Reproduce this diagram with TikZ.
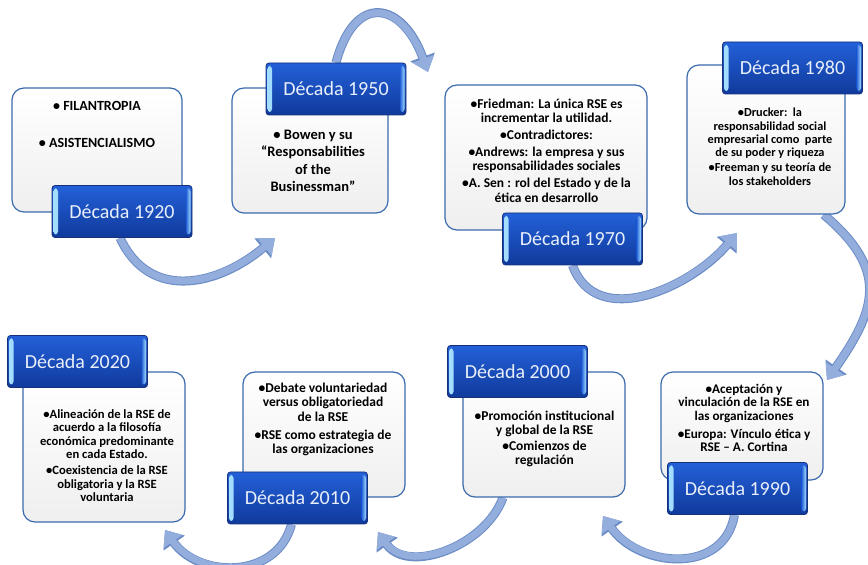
\documentclass[tikz,border=0pt]{standalone}
\usepackage{fontspec}
\setmainfont{Carlito}
\usepackage{xcolor}
\usepackage{tikz}
\usetikzlibrary{arrows.meta,backgrounds,positioning}

\definecolor{azulborde}{HTML}{3A6AAE}
\definecolor{grisfondo}{HTML}{EFEFEF}
\definecolor{azuloscuro}{HTML}{103A9C}
\definecolor{azulmedio}{HTML}{2360D8}
\definecolor{azulmarco}{HTML}{17307A}
\definecolor{celeste}{HTML}{A6E0FF}
\definecolor{flechafondo}{HTML}{93ADDD}
\definecolor{flechaborde}{HTML}{6C8CC6}
\definecolor{textodecada}{HTML}{E8EFFA}

\begin{document}
\begin{tikzpicture}[x=1pt, y=1pt,
                etapa/.style = {rectangle, rounded corners=12pt, draw=azulborde, line width=1.2pt,
                                top color=white, bottom color=grisfondo},
                decada/.style = {rectangle, rounded corners=3pt, draw=azulmarco, line width=0.8pt,
                                 minimum width=140pt, minimum height=52pt, inner sep=0pt,
                                 top color=azulmedio, bottom color=azuloscuro, text=textodecada,
                                 font=\fontsize{20}{24}\selectfont,
                                 path picture={
                                   \shade[left color=celeste, right color=azulmedio]
                                     ([xshift=1.5pt,yshift=-3pt]path picture bounding box.north west) rectangle
                                     ([xshift=6pt,yshift=3pt]path picture bounding box.south west);
                                   \shade[left color=azulmedio, right color=celeste]
                                     ([xshift=-6pt,yshift=-3pt]path picture bounding box.north east) rectangle
                                     ([xshift=-1.5pt,yshift=3pt]path picture bounding box.south east);}},
                texto/.style = {anchor=north, align=center, inner sep=0pt},
                flecha/.style = {draw=flechafondo, line width=7pt, -{Triangle[length=14pt,width=22pt]},
                                 preaction={draw=flechaborde, line width=9pt, -{Triangle[length=16pt,width=25pt]}}}]
            \useasboundingbox (0,0) rectangle (868,565);
            % recuadros
            \node[etapa, minimum width=170pt, minimum height=124pt] (b1920) at (97,415) {};
            \node[etapa, minimum width=156pt, minimum height=125pt] (b1950) at (310,414.5) {};
            \node[etapa, minimum width=202pt, minimum height=145pt] (b1970) at (546,407.5) {};
            \node[etapa, minimum width=158pt, minimum height=149pt] (b1980) at (766,425.5) {};
            \node[etapa, minimum width=162pt, minimum height=108pt] (b1990) at (742,139) {};
            \node[etapa, minimum width=162pt, minimum height=125pt] (b2000) at (544,130.5) {};
            \node[etapa, minimum width=162pt, minimum height=125pt] (b2010) at (324,130.5) {};
            \node[etapa, minimum width=162pt, minimum height=150pt] (b2020) at (104,118) {};
            % decadas
            \node[decada] (l1920) at (122,353.5) {Década 1920};
            \node[decada] (l1950) at (336,476) {Década 1950};
            \node[decada] (l1970) at (572.5,326) {Década 1970};
            \node[decada] (l1980) at (792.5,497) {Década 1980};
            \node[decada] (l1990) at (737.5,76.5) {Década 1990};
            \node[decada] (l2000) at (517.5,193.5) {Década 2000};
            \node[decada] (l2010) at (297.5,67) {Década 2010};
            \node[decada] (l2020) at (77.5,203.5) {Década 2020};
            % textos
            \node[texto, font=\bfseries\fontsize{14}{17}\selectfont] (t1920) at (97,463.5)
                {• FILANTROPIA\\[20pt]• ASISTENCIALISMO};
            \node[texto, font=\bfseries\fontsize{14.5}{17.5}\selectfont] (t1950) at (313,435.5)
                {• Bowen y su\\“Responsabilities\\of the\\Businessman”};
            \node[texto, font=\bfseries\fontsize{13.5}{14.5}\selectfont] (t1970) at (546.5,466.5)
                {•Friedman: La única RSE es\\incrementar la utilidad.\\[2.3pt]•Contradictores:\\[2.3pt]
                 •Andrews: la empresa y sus\\responsabilidades sociales\\[2.3pt]
                 •A. Sen : rol del Estado y de la\\ética en desarrollo};
            \node[texto, font=\bfseries\fontsize{12.3}{13.3}\selectfont] (t1980) at (770,457)
                {•Drucker:\ \ la\\responsabilidad social\\empresarial como\ \ parte\\de su poder y riqueza\\[1.7pt]
                 •Freeman y su teoría de\\los stakeholders};
            \node[texto, font=\bfseries\fontsize{13.2}{13.4}\selectfont] (t1990) at (744,181)
                {•Aceptación y\\vinculación de la RSE en\\las organizaciones\\[4.6pt]
                 •Europa: Vínculo ética y\\RSE – A. Cortina};
            \node[texto, font=\bfseries\fontsize{13.5}{14.2}\selectfont] (t2000) at (544.5,154.5)
                {•Promoción institucional\\y global de la RSE\\[2pt]•Comienzos de\\regulación};
            \node[texto, font=\bfseries\fontsize{13.5}{14.2}\selectfont] (t2010) at (323,182)
                {•Debate voluntariedad\\versus obligatoriedad\\de la RSE\\[4pt]
                 •RSE como estrategia de\\las organizaciones};
            \node[texto, font=\bfseries\fontsize{12.6}{13.4}\selectfont] (t2020) at (107,155.5)
                {•Alineación de la RSE de\\acuerdo a la filosofía\\económica predominante\\en cada Estado.\\[2.7pt]
                 •Coexistencia de la RSE\\obligatoria y la RSE\\voluntaria};
            % puntas de flecha
            \coordinate (p1950) at (275,327);
            \coordinate (p1970) at (428,493);
            \coordinate (p1980) at (737,332);
            \coordinate (p1990) at (827,185);
            \coordinate (p2000) at (603,49);
            \coordinate (p2010) at (378,33);
            \coordinate (p2020) at (165,35);
            \begin{scope}[on background layer]
                \draw[flecha] ([xshift=-2pt]l1920.south) to[out=-65, in=-140, distance=72pt] (p1950);
                \draw[flecha] (l1950.north) to[out=75, in=110, distance=74pt] (p1970);
                \draw[flecha] (l1970.south) to[out=-70, in=-130, distance=70pt] (p1980);
                \draw[flecha] ([xshift=-22pt]b1980.south east) to[out=-40, in=55, distance=86pt] (p1990);
                \draw[flecha] ([xshift=-3pt]l1990.south) to[out=-100, in=-55, distance=62pt] (p2000);
                \draw[flecha] ([xshift=-41pt]b2000.south) to[out=-110, in=-55, distance=52pt] (p2010);
                \draw[flecha] ([xshift=-6pt]l2010.south) to[out=-105, in=-55, distance=58pt] (p2020);
            \end{scope}
\end{tikzpicture}
\end{document}
